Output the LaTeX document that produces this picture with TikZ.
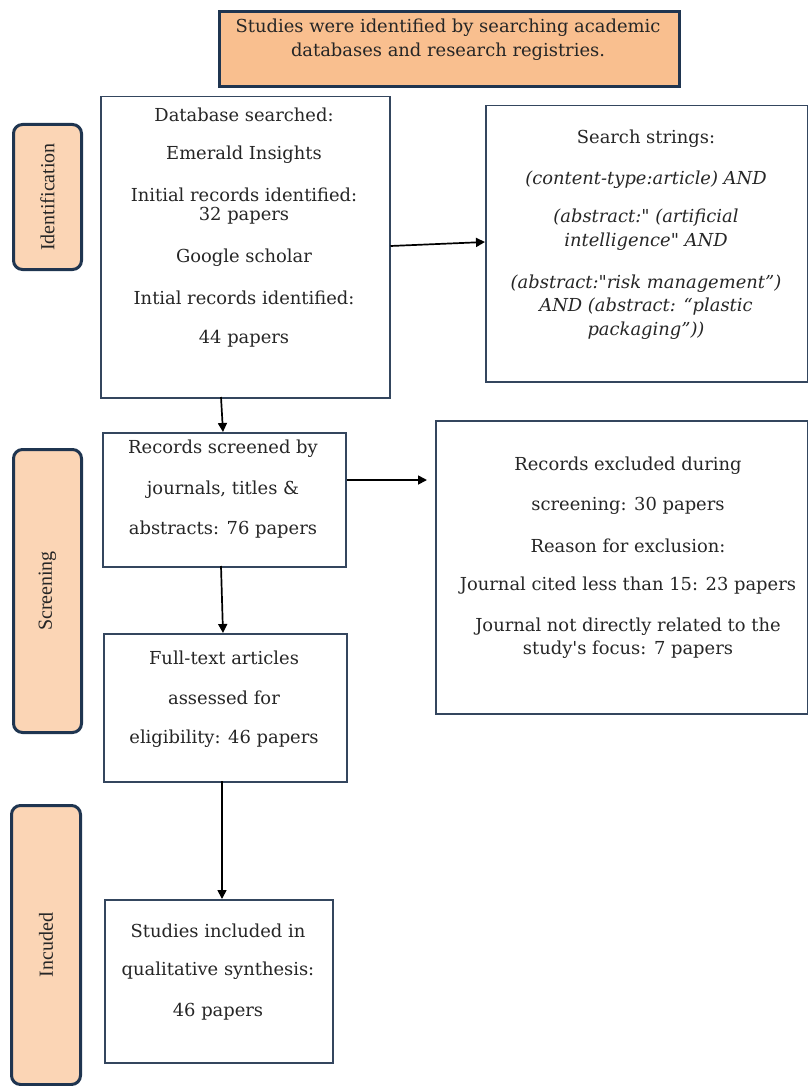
\documentclass[tikz,border=0pt]{standalone}
\usepackage{fontspec}
\setmainfont{DejaVu Serif}[Ligatures=TeXOff]
\newfontfamily\labelfont{Liberation Serif}
\usetikzlibrary{arrows.meta}
\definecolor{navy}{HTML}{1F3550}
\definecolor{boxline}{HTML}{34465E}
\definecolor{topfill}{HTML}{F9BF8F}
\definecolor{labfill}{HTML}{FBD5B5}
\tikzset{
  box/.style={draw=boxline, line width=1.5pt, fill=white, anchor=north west, inner sep=0pt},
  topbox/.style={draw=navy, line width=3pt, fill=topfill, anchor=north west, inner sep=0pt},
  phase/.style={draw=navy, line width=3pt, fill=labfill, rounded corners=9pt, anchor=north west, inner sep=0pt},
  phasetext/.style={rotate=90, font=\labelfont\fontsize{20}{22}\selectfont, text=black!85},
  txt/.style={font=\fontsize{17.9}{20}\selectfont, text=black!85, align=center, inner sep=0pt},
  itxt/.style={txt, font=\fontsize{17.9}{20}\selectfont\itshape},
  arr/.style={line width=1.7pt, -{Triangle[length=9pt,width=9pt]}}
}
\begin{document}
\begin{tikzpicture}[x=1pt,y=-1pt]
\useasboundingbox (0,0) rectangle (807,1086);
% top box
\node[topbox, minimum width=460pt, minimum height=75pt] (top) at (218,10) {};
\node[txt] (top1) at (448,28) {Studies were identified by searching academic};
\node[txt] (top2) at (448,52) {databases and research registries.};
% phase labels
\node[phase, minimum width=68pt, minimum height=145pt] (idl) at (12,123) {};
\node[phasetext] (idt) at (idl.center) {Identification};
\node[phase, minimum width=68pt, minimum height=283pt] (scl) at (12,448) {};
\node[phasetext] (sct) at (scl.center) {Screening};
\node[phase, minimum width=69pt, minimum height=279pt] (inl) at (10,804) {};
\node[phasetext] (int) at (inl.center) {Incuded};
% database box
\node[box, minimum width=289pt, minimum height=301pt] (db) at (100,96) {};
\node[txt] (db1) at (244,115) {Database searched:};
\node[txt] (db2) at (244,155) {Emerald Insights};
\node[txt] (db3) at (244,195) {Initial records identified:};
\node[txt] (db4) at (244,216) {32 papers};
\node[txt] (db5) at (244,258) {Google scholar};
\node[txt] (db6) at (244,298) {Intial records identified:};
\node[txt] (db7) at (244,339) {44 papers};
% search strings
\node[box, minimum width=322pt, minimum height=276pt] (ss) at (485,105) {};
\node[txt] (ss1) at (646,139) {Search strings:};
\node[itxt] (ss2) at (646,180) {(content-type:article) AND};
\node[itxt] (ss3) at (646,218) {(abstract:" (artificial};
\node[itxt] (ss4) at (646,242) {intelligence" AND};
\node[itxt] (ss5) at (646,284) {(abstract:"risk management”)};
\node[itxt] (ss6) at (646,307) {AND (abstract: “plastic};
\node[itxt] (ss7) at (646,331) {packaging”))};
% records screened
\node[box, minimum width=243pt, minimum height=134pt] (rs) at (102,432) {};
\node[txt] (rs1) at (223,449) {Records screened by};
\node[txt] (rs2) at (223,490) {journals, titles \&};
\node[txt] (rs3) at (223,530) {abstracts: 76 papers};
% records excluded
\node[box, minimum width=372pt, minimum height=293pt] (re) at (435,420) {};
\node[txt] (re1) at (628,466) {Records excluded during};
\node[txt] (re2) at (628,506) {screening: 30 papers};
\node[txt] (re3) at (628,546) {Reason for exclusion:};
\node[txt] (re4) at (628,586) {Journal cited less than 15: 23 papers};
\node[txt] (re5) at (628,627) {Journal not directly related to the};
\node[txt] (re6) at (628,650) {study's focus: 7 papers};
% full text
\node[box, minimum width=243pt, minimum height=148pt] (ft) at (103,633) {};
\node[txt] (ft1) at (224,658) {Full-text articles};
\node[txt] (ft2) at (224,698) {assessed for};
\node[txt] (ft3) at (224,739) {eligibility: 46 papers};
% included
\node[box, minimum width=228pt, minimum height=163pt] (si) at (104,899) {};
\node[txt] (si1) at (218,931) {Studies included in};
\node[txt] (si2) at (218,971) {qualitative synthesis:};
\node[txt] (si3) at (218,1012) {46 papers};
% arrows
\draw[arr] (db.east |- 0,246) -- (ss.west |- 0,242);
\draw[arr] (221,397) -- (rs.north -| 223,0);
\draw[arr] (rs.east |- 0,480) -- (427,480);
\draw[arr] (221,566) -- (ft.north -| 223,0);
\draw[arr] (222,781) -- (si.north -| 222,0);
\end{tikzpicture}
\end{document}
